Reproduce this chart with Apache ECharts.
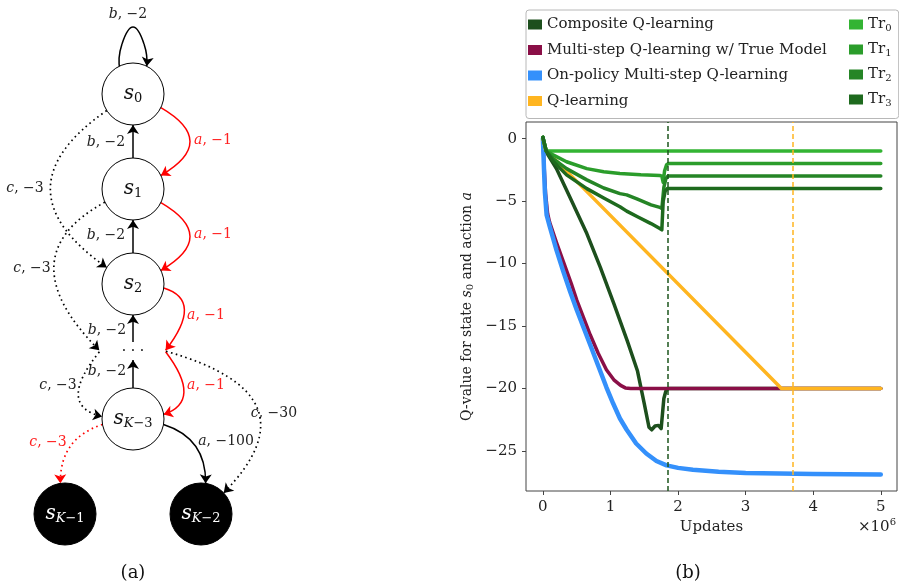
<!DOCTYPE html>
<html>
<head>
<meta charset="utf-8">
<script src="https://cdn.jsdelivr.net/npm/echarts@6/dist/echarts.min.js"></script>
<style>
html, body { margin: 0; padding: 0; background: #fff; }
#main { width: 899px; height: 587px; }
</style>
</head>
<body>
<div id="main"></div>
<script>
// (b) Q-value curves, updates in millions
var updComposite = [0, 0.03, 0.2, 0.4, 0.65, 0.85, 1.05, 1.25, 1.4, 1.5, 1.57, 1.61, 1.66, 1.71, 1.75, 1.77, 1.79, 1.82, 1.85, 2.5, 5];
var qComposite   = [0.1, -0.9, -2.4, -4.7, -7.6, -10.3, -13.2, -16.2, -18.6, -21.2, -23.1, -23.3, -23.0, -22.95, -23.2, -22.0, -20.8, -20.2, -20, -20, -20];
var updTrueModel = [0, 0.02, 0.04, 0.07, 0.1, 0.2, 0.3, 0.42, 0.5, 0.6, 0.7, 0.82, 0.94, 1.05, 1.15, 1.22, 1.3, 2, 3, 4, 5];
var qTrueModel   = [0, -2.4, -4.4, -6.0, -6.7, -8.3, -9.8, -11.6, -12.9, -14.3, -15.7, -17.2, -18.5, -19.3, -19.75, -19.95, -20, -20, -20, -20, -20];
var updOnPolicy  = [0, 0.01, 0.02, 0.03, 0.055, 0.1, 0.2, 0.3, 0.4, 0.5, 0.6, 0.7, 0.82, 0.94, 1.04, 1.14, 1.24, 1.38, 1.53, 1.68, 1.83, 2.0, 2.22, 2.6, 3.0, 3.5, 4.0, 4.5, 5.0];
var qOnPolicy    = [0, -1.5, -3.0, -4.3, -6.1, -7.0, -8.9, -10.6, -12.2, -13.7, -15.1, -16.5, -18.2, -19.9, -21.2, -22.4, -23.3, -24.4, -25.2, -25.8, -26.15, -26.35, -26.5, -26.65, -26.75, -26.8, -26.83, -26.85, -26.87];
var updQ = [0, 0.04, 3.53, 5];
var qQ   = [0, -0.9, -20, -20];
var updTr0 = [0, 0.05, 5];
var qTr0   = [0.1, -1, -1];
var updTr1 = [0, 0.05, 0.15, 0.35, 0.65, 0.9, 1.14, 1.45, 1.73, 1.76, 1.78, 1.8, 1.83, 1.86, 5];
var qTr1   = [0.1, -1.0, -1.3, -1.85, -2.4, -2.65, -2.8, -2.9, -2.95, -3.0, -3.5, -2.6, -2.1, -2.0, -2.0];
var updTr2 = [0, 0.05, 0.15, 0.35, 0.65, 0.9, 1.14, 1.24, 1.4, 1.6, 1.73, 1.76, 1.79, 1.82, 1.85, 5];
var qTr2   = [0.1, -1.0, -1.6, -2.4, -3.3, -3.95, -4.4, -4.5, -4.85, -5.3, -5.5, -5.6, -3.9, -3.2, -3.0, -3.0];
var updTr3 = [0, 0.05, 0.15, 0.35, 0.65, 0.9, 1.14, 1.24, 1.4, 1.6, 1.73, 1.76, 1.78, 1.81, 1.84, 5];
var qTr3   = [0.1, -1.0, -1.8, -2.9, -4.0, -4.75, -5.45, -5.8, -6.25, -6.8, -7.2, -7.3, -5.0, -4.2, -4.0, -4.0];
var compositeConverged = 1.85;
var qLearningConverged = 3.69;
var xTicks = [0, 1, 2, 3, 4, 5];
var yTicks = [-25, -20, -15, -10, -5, 0];

// (a) chain MDP: states and transitions
var stateIds    = ['s0', 's1', 's2', 'dots', 'sK3', 'sK1', 'sK2', 'loopL', 'loopR', 'gapL', 'gapR'];
var stateLabels = ['{i|s}{sub|0}', '{i|s}{sub|1}', '{i|s}{sub|2}', '· · ·', '{i|s}{subi|K}{sub|−3}', '{i|s}{subi|K}{sub|−1}', '{i|s}{subi|K}{sub|−2}', '', '', '', ''];
var stateKind   = ['state', 'state', 'state', 'gap', 'state', 'terminal', 'terminal', 'helper', 'helper', 'anchor', 'anchor'];
var edgeFrom  = ['s0', 'loopL', 'loopR', 's1', 's2', 'dots', 'sK3', 's0', 's1', 's2', 'gapR', 's0', 's1', 'gapL', 'sK3', 'sK3', 'gapR'];
var edgeTo    = ['loopL', 'loopR', 's0', 's0', 's1', 's2', 'dots', 's1', 's2', 'gapR', 'sK3', 's2', 'gapL', 'sK3', 'sK1', 'sK2', 'sK2'];
var edgeKind  = ['loop', 'loop', 'solid', 'solid', 'solid', 'solid', 'solid', 'red', 'red', 'red', 'red', 'dotted', 'dotted', 'dotted', 'reddotted', 'solid', 'dotted'];
var edgeText  = ['{i|b}, −2', '{i|b}, −2', '{i|b}, −2', '{i|b}, −2', '{i|b}, −2', '{i|a}, −1', '{i|a}, −1', '{i|a}, −1', '{i|a}, −1', '{i|c}, −3', '{i|c}, −3', '{i|c}, −3', '{i|c}, −3', '{i|a}, −100', '{i|c}, −30'];
var edgeTextRed = [false, false, false, false, false, true, true, true, true, false, false, false, true, false, false];

// layout of the diagram (pixels)
var stateX = [133, 133, 133, 133, 133, 65, 201, 122, 144, 100, 165];
var stateY = [94, 189, 284, 351, 419, 514, 514, 44, 44, 351, 351];
var edgeBend = [0.3, 1.55, 0.3, 0, 0, 0, 0, 1.2, 1.2, 1.0, 0.97, -0.87, -0.76, -1.07, -0.6, 0.6, 0.94];
var edgeTextX = [128, 106, 106, 107, 107, 213, 213, 206, 206, 25, 32, 58, 48, 226, 274];
var edgeTextY = [14, 142, 235, 330, 371, 140, 234, 315, 385, 188, 268, 385, 442, 441, 413];

var serif = 'DejaVu Serif';
var colComposite = '#1d4f1d';
var colTrueModel = '#8a0f47';
var colOnPolicy = '#3490fb';
var colQ = '#ffb520';
var colTr = ['#33b433', '#2b9d2b', '#258526', '#1e6a1e'];

function pairs(xs, ys) {
    return xs.map(function (x, i) { return [x, ys[i]]; });
}
function minus(v) {
    return String(v).replace('-', '−');
}

var myChart = echarts.init(document.getElementById('main'));

var nodes = stateIds.map(function (id, i) {
    var kind = stateKind[i];
    var node = { name: id, x: stateX[i], y: stateY[i], label: { formatter: stateLabels[i] } };
    if (kind === 'state') {
        node.symbol = 'circle'; node.symbolSize = 62;
        node.itemStyle = { color: '#fff', borderColor: '#000', borderWidth: 1 };
        node.label.color = '#111';
    } else if (kind === 'terminal') {
        node.symbol = 'circle'; node.symbolSize = 62;
        node.itemStyle = { color: '#000', borderColor: '#000', borderWidth: 1 };
        node.label.color = '#fff';
    } else if (kind === 'gap') {
        node.symbol = 'rect'; node.symbolSize = 18;
        node.itemStyle = { color: 'rgba(0,0,0,0)', borderWidth: 0 };
        node.label.color = '#111';
        node.label.fontSize = 14;
    } else {
        node.symbol = 'circle'; node.symbolSize = kind === 'anchor' ? 2 : 0;
        node.itemStyle = { color: 'rgba(0,0,0,0)', borderWidth: 0 };
    }
    return node;
});

var links = edgeFrom.map(function (src, i) {
    var kind = edgeKind[i];
    var red = kind === 'red' || kind === 'reddotted';
    var dotted = kind === 'dotted' || kind === 'reddotted';
    return {
        source: src,
        target: edgeTo[i],
        symbol: kind === 'loop' ? ['none', 'none'] : ['circle', 'arrow'],
        lineStyle: {
            color: red ? '#ff0000' : '#000',
            opacity: 1,
            width: dotted ? 1.7 : 1.5,
            type: dotted ? [1.6, 3.4] : 'solid',
            curveness: edgeBend[i]
        }
    };
});

var edgeTexts = edgeText.map(function (t, i) {
    return {
        type: 'text',
        x: edgeTextX[i],
        y: edgeTextY[i],
        style: {
            text: t,
            fontFamily: serif,
            fontSize: 14,
            fill: edgeTextRed[i] ? '#ff2020' : '#222',
            align: 'center',
            verticalAlign: 'middle',
            rich: { i: { fontStyle: 'italic', fontFamily: serif, fontSize: 14 } }
        }
    };
});

var lineBase = { type: 'line', showSymbol: false, symbol: 'none', smooth: false, xAxisIndex: 0, yAxisIndex: 0 };
function lineSeries(name, data, color, width, extra) {
    return Object.assign({}, lineBase, {
        name: name,
        data: data,
        color: color,
        lineStyle: { color: color, width: width, cap: 'round', join: 'round' }
    }, extra || {});
}
function convergeLine(x, color) {
    return {
        silent: true,
        symbol: 'none',
        label: { show: false },
        lineStyle: { color: color, width: 1.5, type: [5, 3] },
        data: [{ xAxis: x }]
    };
}

var option = {
    animation: false,
    backgroundColor: '#fff',
    textStyle: { fontFamily: serif },
    grid: {
        left: 526, top: 122, width: 371, height: 369,
        show: true, borderColor: '#444', borderWidth: 1
    },
    xAxis: {
        type: 'value',
        min: -0.25, max: 5.24,
        name: 'Updates',
        nameLocation: 'middle',
        nameGap: 27,
        nameTextStyle: { fontFamily: serif, fontSize: 15, color: '#222' },
        axisLine: { show: false, onZero: false },
        axisTick: { show: true, length: 4, customValues: xTicks, lineStyle: { color: '#444' } },
        axisLabel: { customValues: xTicks, margin: 9, fontFamily: serif, fontSize: 15, color: '#222' },
        splitLine: { show: false }
    },
    yAxis: {
        type: 'value',
        min: -28.2, max: 1.33,
        name: '{n|Q-value for state }{i|s}{sub|0}{n| and action }{i|a}',
        nameLocation: 'middle',
        nameRotate: 90,
        nameGap: 51,
        nameTextStyle: {
            fontFamily: serif, fontSize: 14, color: '#222',
            rich: {
                n: { fontFamily: serif, fontSize: 14 },
                i: { fontFamily: serif, fontSize: 14, fontStyle: 'italic' },
                sub: { fontFamily: serif, fontSize: 10, padding: [6, 0, 0, 0] }
            }
        },
        axisLine: { show: false, onZero: false },
        axisTick: { show: true, length: 4, customValues: yTicks, lineStyle: { color: '#444' } },
        axisLabel: { customValues: yTicks, margin: 9, fontFamily: serif, fontSize: 15, color: '#222', formatter: minus },
        splitLine: { show: false }
    },
    legend: [{
        left: 526, top: 10,
        orient: 'vertical',
        icon: 'rect',
        itemWidth: 14, itemHeight: 10, itemGap: 10.5,
        padding: [7, 72, 10, 2],
        borderColor: '#b8b8b8', borderWidth: 1, borderRadius: 3,
        textStyle: { fontFamily: serif, fontSize: 15, color: '#222' },
        data: ['Composite Q-learning', 'Multi-step Q-learning w/ True Model', 'On-policy Multi-step Q-learning', 'Q-learning']
    }, {
        left: 849, top: 17,
        orient: 'vertical',
        icon: 'rect',
        itemWidth: 14, itemHeight: 10, itemGap: 9,
        padding: 0,
        formatter: function (name) { return '{t|Tr}{s|' + name.slice(2) + '}'; },
        textStyle: {
            fontFamily: serif, fontSize: 15, color: '#222',
            rich: {
                t: { fontFamily: serif, fontSize: 15 },
                s: { fontFamily: serif, fontSize: 10, padding: [7, 0, 0, 0] }
            }
        },
        data: ['Tr0', 'Tr1', 'Tr2', 'Tr3']
    }],
    graphic: edgeTexts.concat([
        {
            type: 'text', x: 858, y: 527,
            style: {
                text: '{n|×10}{p|6}', fontFamily: serif, fontSize: 15, fill: '#222', verticalAlign: 'middle',
                rich: { n: { fontFamily: serif, fontSize: 15 }, p: { fontFamily: serif, fontSize: 10, padding: [0, 0, 9, 0] } }
            }
        },
        { type: 'text', x: 133, y: 573, style: { text: '(a)', fontFamily: serif, fontSize: 18, fill: '#111', align: 'center', verticalAlign: 'middle' } },
        { type: 'text', x: 688, y: 573, style: { text: '(b)', fontFamily: serif, fontSize: 18, fill: '#111', align: 'center', verticalAlign: 'middle' } }
    ]),
    series: [
        lineSeries('Composite Q-learning', pairs(updComposite, qComposite), colComposite, 3.5, {
            markLine: convergeLine(compositeConverged, '#1d561d')
        }),
        lineSeries('Multi-step Q-learning w/ True Model', pairs(updTrueModel, qTrueModel), colTrueModel, 3.5),
        lineSeries('On-policy Multi-step Q-learning', pairs(updOnPolicy, qOnPolicy), colOnPolicy, 4.5),
        lineSeries('Q-learning', pairs(updQ, qQ), colQ, 3.5, {
            markLine: convergeLine(qLearningConverged, colQ)
        }),
        lineSeries('Tr0', pairs(updTr0, qTr0), colTr[0], 3.5),
        lineSeries('Tr1', pairs(updTr1, qTr1), colTr[1], 3.5),
        lineSeries('Tr2', pairs(updTr2, qTr2), colTr[2], 3.5),
        lineSeries('Tr3', pairs(updTr3, qTr3), colTr[3], 3.5),
        {
            type: 'graph',
            layout: 'none',
            roam: false,
            silent: true,
            left: 65, top: 44, width: 136, height: 470,
            edgeSymbolSize: [0, 9],
            lineStyle: { opacity: 1 },
            label: {
                show: true,
                position: 'inside',
                fontFamily: serif,
                fontSize: 20,
                rich: {
                    i: { fontFamily: serif, fontSize: 20, fontStyle: 'italic' },
                    subi: { fontFamily: serif, fontSize: 13, fontStyle: 'italic', padding: [9, 0, 0, 0] },
                    sub: { fontFamily: serif, fontSize: 13, padding: [9, 0, 0, 0] }
                }
            },
            emphasis: { disabled: true },
            data: nodes,
            links: links
        }
    ]
};

myChart.setOption(option);
</script>
</body>
</html>
